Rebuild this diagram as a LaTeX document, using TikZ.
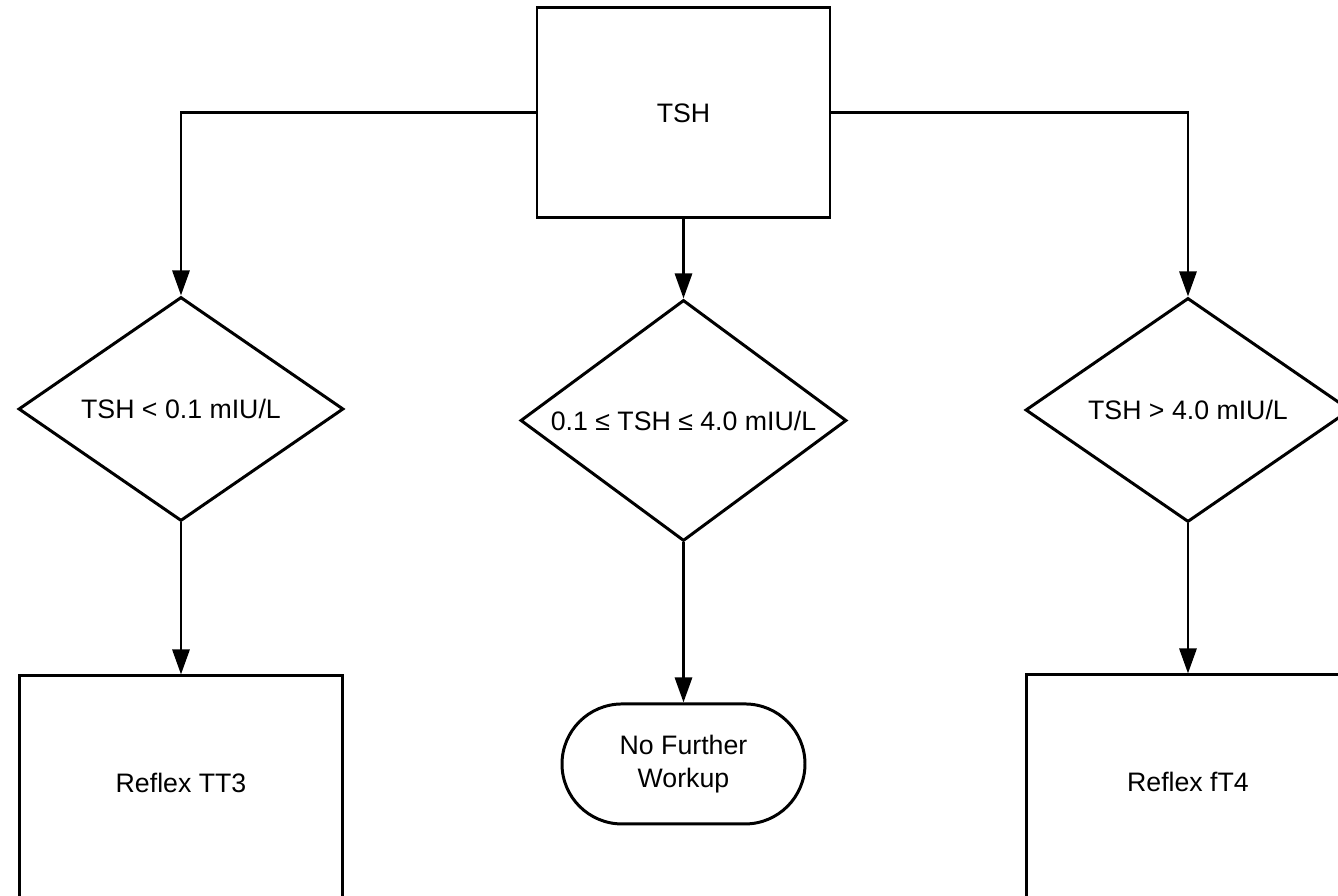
\documentclass[tikz,border=0pt]{standalone}
\usepackage{fontspec}
\setmainfont{Liberation Sans}
\usepackage{tikz}
\usetikzlibrary{shapes, arrows.meta, positioning}

\begin{document}
\begin{tikzpicture}[
    font=\fontsize{7.6}{9.4}\selectfont,
    line width=0.85pt,
    box/.style={
        draw,
        align=center,
        minimum width=2.93cm,
        minimum height=2.10cm
    },
    decision/.style={
        draw,
        diamond,
        aspect=1.4,
        inner sep=0pt,
        align=center,
        minimum width=3.25cm,
        minimum height=2.24cm
    },
    reflex/.style={
        draw,
        align=center,
        minimum width=3.23cm,
        minimum height=2.25cm,
        text depth=0.12cm
    },
    terminal/.style={
        draw,
        rounded corners=0.6cm,
        align=center,
        minimum width=2.43cm,
        minimum height=1.20cm
    },
    line/.style={draw, -{Triangle[length=0.25cm, width=0.17cm]}}
]

\useasboundingbox (0,0) rectangle (13.38,-8.96);

\node[box] (tsh) at (6.835,-1.13) {TSH};

\node[decision] (low) at (1.81,-4.09) {TSH < 0.1 mIU/L};
\node[decision, below=0.79cm of tsh, minimum width=3.26cm, minimum height=2.41cm] (mid)
{0.1 ≤ TSH ≤ 4.0 mIU/L};
\node[decision] (high) at (11.88,-4.10) {TSH > 4.0 mIU/L};

\node[reflex, below=1.52cm of low] (tt3) {Reflex TT3};
\node[terminal, below=1.60cm of mid] (none) {No Further\\Workup};
\node[reflex, below=1.50cm of high] (ft4) {Reflex fT4};

\draw[line] (tsh.west) -| (low.north);
\draw[line] (tsh) -- (mid);
\draw[line] (tsh.east) -| (high.north);
\draw[line] (low) -- (tt3);
\draw[line] (mid) -- (none);
\draw[line] (high) -- (ft4);

\end{tikzpicture}
\end{document}
